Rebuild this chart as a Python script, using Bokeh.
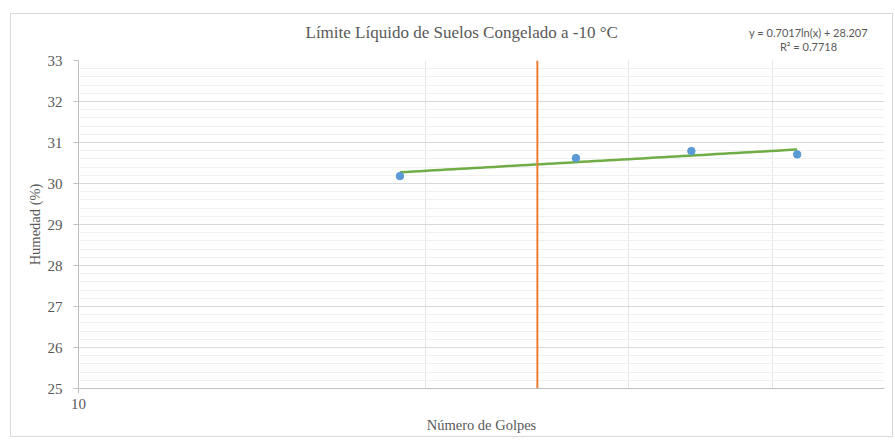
import numpy as np
from bokeh.plotting import figure
from bokeh.layouts import column
from bokeh.models import (Range1d, FixedTicker, SingleIntervalTicker, Span, Label,
                          ColumnDataSource, BasicTickFormatter)
from bokeh.embed import file_html
from bokeh.resources import INLINE

# ---- data ----
golpes = [19, 27, 34, 42]
humedad = [30.18, 30.62, 30.79, 30.71]
trend_slope = 0.7017
trend_intercept = 28.207
r2 = 0.7718
limite_x = 25
x_tick_labels = [10]
x_grid = [20, 30, 40, 50]

title_text = "Límite  Líquido  de  Suelos  Congelado  a  -10 °C"
eq_text = "y = 0.7017ln(x) + 28.207"
r2_text = "R² = 0.7718"

SERIF = "Liberation Serif"
GRAY = "#595959"
W = 881
TOP_H = 39
MAIN_H = 383
FRAME_L = 67
FRAME_R = 873

# ---- header strip (title + trendline equation); its frame aligns with the chart frame ----
h = figure(width=W, height=TOP_H, x_range=Range1d(FRAME_L, FRAME_R), y_range=Range1d(0, TOP_H),
           output_backend="svg", toolbar_location=None,
           x_axis_location=None, y_axis_location=None,
           min_border=0, min_border_left=0, min_border_right=0,
           min_border_top=0, min_border_bottom=0)
h.grid.visible = False
h.outline_line_color = None
h.background_fill_color = "white"
h.border_fill_color = "white"
h.add_layout(Label(x=294, y=21, text=title_text, text_align="left", text_baseline="middle",
                   text_font=SERIF, text_font_size="17px", text_color=GRAY))
h.add_layout(Label(x=797, y=21, text=eq_text, text_align="center", text_baseline="middle",
                   text_font="Lato", text_font_size="11px", text_color=GRAY))
h.add_layout(Label(x=797, y=7, text=r2_text, text_align="center", text_baseline="middle",
                   text_font="Lato", text_font_size="11px", text_color=GRAY))

# ---- main chart ----
p = figure(width=W, height=MAIN_H, x_axis_type="log",
           x_range=Range1d(10, 50), y_range=Range1d(25, 33),
           output_backend="svg", toolbar_location=None,
           min_border_left=FRAME_L, min_border_right=W - FRAME_R, min_border_top=7,
           min_border_bottom=48)
p.outline_line_color = None
p.background_fill_color = "white"
p.border_fill_color = "white"

p.xaxis.ticker = FixedTicker(ticks=x_tick_labels)
p.xaxis.formatter = BasicTickFormatter()
p.xaxis.axis_label = "Número de Golpes"
p.yaxis.axis_label = "Humedad (%)"
p.yaxis.ticker = SingleIntervalTicker(interval=1, num_minor_ticks=5)
for ax in (p.xaxis[0], p.yaxis[0]):
    ax.axis_label_text_font = SERIF
    ax.axis_label_text_font_size = "14.5px"
    ax.axis_label_text_font_style = "normal"
    ax.axis_label_text_color = GRAY
    ax.major_label_text_font = SERIF
    ax.major_label_text_font_size = "15px"
    ax.major_label_text_color = GRAY
    ax.axis_line_color = "#bfbfbf"
    ax.major_tick_line_color = "#bfbfbf"
    ax.major_tick_in = 0
    ax.major_tick_out = 5
    ax.minor_tick_line_color = None
p.xaxis.major_label_standoff = 5
p.xaxis.axis_label_standoff = 5
p.yaxis.major_label_standoff = 11
p.yaxis.axis_label_standoff = 2

p.xgrid.ticker = FixedTicker(ticks=x_grid)
p.xgrid.grid_line_color = "#e6e6e6"
p.ygrid.grid_line_color = "#d9d9d9"
p.ygrid.minor_grid_line_color = "#f0f0f0"

p.add_layout(Span(location=limite_x, dimension="height", line_color="#ed7d31", line_width=2))

xt = np.exp(np.linspace(np.log(min(golpes)), np.log(max(golpes)), 60))
yt = trend_slope * np.log(xt) + trend_intercept
p.line(xt, yt, line_color="#70ad47", line_width=2.5)

src = ColumnDataSource(dict(x=golpes, y=humedad))
p.scatter("x", "y", source=src, size=7.5, fill_color="#5b9bd5", line_color="#5b9bd5")

layout = column(h, p, spacing=0)
layout.styles = {"border": "1px solid #d9d9d9", "margin-left": "10px", "margin-top": "13px",
                 "background-color": "white"}

open("out.html", "w").write(file_html(layout, INLINE))
